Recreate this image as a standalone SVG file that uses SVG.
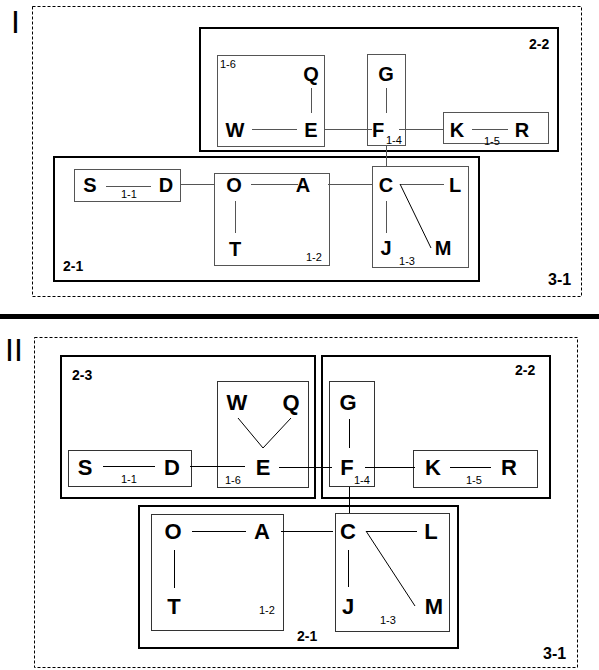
<svg xmlns="http://www.w3.org/2000/svg" width="599" height="670" viewBox="0 0 599 670">
<style>
.bg{fill:#fff}
.dash{fill:none;stroke:#000;stroke-width:1;stroke-dasharray:3,2}
.g2{fill:none;stroke:#000;stroke-width:2}
.g1{fill:none;stroke:#555;stroke-width:1}
.g1b{fill:none;stroke:#333;stroke-width:1}
.c1{stroke:#555;stroke-width:1;fill:none}
.c2{stroke:#000;stroke-width:1;fill:none}
.n1{font-family:"Liberation Sans",Arial,sans-serif;font-weight:bold;font-size:20px;text-anchor:middle;fill:#000}
.n2{font-family:"Liberation Sans",Arial,sans-serif;font-weight:bold;font-size:22px;text-anchor:middle;fill:#000}
.s{font-family:"Liberation Sans",Arial,sans-serif;font-size:11px;fill:#000}
.gl{font-family:"Liberation Sans",Arial,sans-serif;font-weight:bold;font-size:14px;fill:#000}
.big{font-family:"Liberation Sans",Arial,sans-serif;font-size:32px;fill:#000}
</style>
<rect class="bg" x="0" y="0" width="599" height="670"/>

<!-- Panel I -->
<g id="panel1">
<text class="big" x="11" y="33">I</text>
<g id="p1-g31"><rect class="dash" x="32.5" y="6.5" width="549" height="290"/><text class="gl" x="548" y="285" style="font-size:16px">3-1</text></g>
<g id="p1-g22"><rect class="g2" x="200" y="28" width="358" height="123"/><text class="gl" x="529" y="49">2-2</text></g>
<g id="p1-g21"><rect class="g2" x="54" y="157" width="425" height="124"/><text class="gl" x="63" y="271">2-1</text></g>
<g id="p1-g16"><rect class="g1" x="217.5" y="55.5" width="107" height="91"/><text class="s" x="220" y="68">1-6</text></g>
<g id="p1-g14"><rect class="g1" x="367.5" y="54.5" width="38" height="91"/><text class="s" x="386" y="144">1-4</text></g>
<g id="p1-g15"><rect class="g1" x="443.5" y="112.5" width="105" height="31"/><text class="s" x="484" y="145">1-5</text></g>
<g id="p1-g11"><rect class="g1" x="74.5" y="169.5" width="106" height="32"/><text class="s" x="121" y="198">1-1</text></g>
<g id="p1-g12"><rect class="g1" x="214.5" y="173.5" width="115" height="92"/><text class="s" x="306" y="261">1-2</text></g>
<g id="p1-g13"><rect class="g1" x="372.5" y="166.5" width="96" height="101"/><text class="s" x="407" y="265" style="text-anchor:middle">1-3</text></g>

<g id="p1-connectors">
<line class="c1" x1="252" y1="129.5" x2="297" y2="129.5"/>
<line class="c1" x1="311.5" y1="88" x2="311.5" y2="113"/>
<line class="c1" x1="325" y1="129.5" x2="372" y2="129.5"/>
<line class="c1" x1="386.5" y1="88" x2="386.5" y2="113"/>
<line class="c1" x1="399" y1="129.5" x2="443" y2="129.5"/>
<line class="c1" x1="472" y1="129.5" x2="508" y2="129.5"/>
<line class="c1" x1="386.5" y1="146" x2="386.5" y2="167"/>
<line class="c1" x1="106" y1="186.5" x2="151" y2="186.5"/>
<line class="c1" x1="180" y1="184.5" x2="214" y2="184.5"/>
<line class="c1" x1="251" y1="184.5" x2="298" y2="184.5"/>
<line class="c1" x1="235.5" y1="201" x2="235.5" y2="233"/>
<line class="c1" x1="328" y1="184.5" x2="372" y2="184.5"/>
<line class="c1" x1="400" y1="184.5" x2="444" y2="184.5"/>
<line class="c1" x1="386.5" y1="201" x2="386.5" y2="233"/>
<line class="c2" x1="400" y1="184" x2="431" y2="248"/>
</g>

<g id="p1-W"><text class="n1" x="235" y="137">W</text></g>
<g id="p1-E"><text class="n1" x="311" y="137">E</text></g>
<g id="p1-Q"><text class="n1" x="311" y="81">Q</text></g>
<g id="p1-G"><text class="n1" x="386" y="81">G</text></g>
<g id="p1-F"><text class="n1" x="378" y="137">F</text></g>
<g id="p1-K"><text class="n1" x="457" y="137">K</text></g>
<g id="p1-R"><text class="n1" x="522" y="137">R</text></g>
<g id="p1-S"><text class="n1" x="90" y="192">S</text></g>
<g id="p1-D"><text class="n1" x="166" y="192">D</text></g>
<g id="p1-O"><text class="n1" x="234" y="192">O</text></g>
<g id="p1-A"><text class="n1" x="303" y="192">A</text></g>
<g id="p1-C"><text class="n1" x="386" y="192">C</text></g>
<g id="p1-L"><text class="n1" x="455" y="192">L</text></g>
<g id="p1-T"><text class="n1" x="235" y="256">T</text></g>
<g id="p1-J"><text class="n1" x="386" y="255">J</text></g>
<g id="p1-M"><text class="n1" x="443" y="255">M</text></g>
</g>

<rect x="0" y="314" width="599" height="5" fill="#000"/>

<!-- Panel II -->
<g id="panel2">
<text class="big" x="5" y="361">II</text>
<g id="p2-g31"><rect class="dash" x="34.5" y="337.5" width="543" height="330"/><text class="gl" x="543" y="659" style="font-size:16px">3-1</text></g>
<g id="p2-g23"><rect class="g2" x="61" y="356" width="254" height="142"/><text class="gl" x="72" y="380">2-3</text></g>
<g id="p2-g22"><rect class="g2" x="322" y="356" width="228" height="142"/><text class="gl" x="515" y="375">2-2</text></g>
<g id="p2-g21"><rect class="g2" x="139" y="506" width="319" height="142"/><text class="gl" x="297" y="641">2-1</text></g>
<g id="p2-g11"><rect class="g1b" x="68.5" y="450.5" width="123" height="36"/><text class="s" x="121" y="483">1-1</text></g>
<g id="p2-g16"><rect class="g1b" x="217.5" y="381.5" width="91" height="106"/><text class="s" x="225" y="484">1-6</text></g>
<g id="p2-g14"><rect class="g1b" x="329.5" y="381.5" width="45" height="105"/><text class="s" x="354" y="484">1-4</text></g>
<g id="p2-g15"><rect class="g1b" x="413.5" y="450.5" width="124" height="37"/><text class="s" x="466" y="484">1-5</text></g>
<g id="p2-g12"><rect class="g1b" x="151.5" y="514.5" width="132" height="116"/><text class="s" x="259" y="614">1-2</text></g>
<g id="p2-g13"><rect class="g1b" x="335.5" y="513.5" width="114" height="118"/><text class="s" x="380" y="624">1-3</text></g>

<g id="p2-connectors">
<line class="c2" x1="238" y1="418" x2="263" y2="448"/>
<line class="c2" x1="263" y1="448" x2="291" y2="418"/>
<line class="c2" x1="103" y1="466.5" x2="155" y2="466.5"/>
<line class="c2" x1="190" y1="466.5" x2="245" y2="466.5"/>
<line class="c2" x1="279" y1="467.5" x2="332" y2="467.5"/>
<line class="c2" x1="349.5" y1="419" x2="349.5" y2="448"/>
<line class="c2" x1="365" y1="467.5" x2="415" y2="467.5"/>
<line class="c2" x1="450" y1="467.5" x2="491" y2="467.5"/>
<line class="c2" x1="349.5" y1="487" x2="349.5" y2="513"/>
<line class="c2" x1="192" y1="531.5" x2="246" y2="531.5"/>
<line class="c2" x1="174.5" y1="550" x2="174.5" y2="588"/>
<line class="c2" x1="281" y1="531.5" x2="333" y2="531.5"/>
<line class="c2" x1="366" y1="531.5" x2="417" y2="531.5"/>
<line class="c2" x1="348.5" y1="550" x2="348.5" y2="587"/>
<line class="c2" x1="366" y1="531" x2="415" y2="606"/>
</g>

<g id="p2-W"><text class="n2" x="237" y="410">W</text></g>
<g id="p2-Q"><text class="n2" x="291" y="410">Q</text></g>
<g id="p2-G"><text class="n2" x="348" y="410">G</text></g>
<g id="p2-S"><text class="n2" x="85" y="475">S</text></g>
<g id="p2-D"><text class="n2" x="172" y="475">D</text></g>
<g id="p2-E"><text class="n2" x="263" y="475">E</text></g>
<g id="p2-F"><text class="n2" x="347" y="475">F</text></g>
<g id="p2-K"><text class="n2" x="433" y="475">K</text></g>
<g id="p2-R"><text class="n2" x="509" y="475">R</text></g>
<g id="p2-O"><text class="n2" x="173" y="539">O</text></g>
<g id="p2-A"><text class="n2" x="262" y="539">A</text></g>
<g id="p2-C"><text class="n2" x="348" y="539">C</text></g>
<g id="p2-L"><text class="n2" x="431" y="539">L</text></g>
<g id="p2-T"><text class="n2" x="174" y="614">T</text></g>
<g id="p2-J"><text class="n2" x="348" y="614">J</text></g>
<g id="p2-M"><text class="n2" x="434" y="614">M</text></g>
</g>
</svg>
